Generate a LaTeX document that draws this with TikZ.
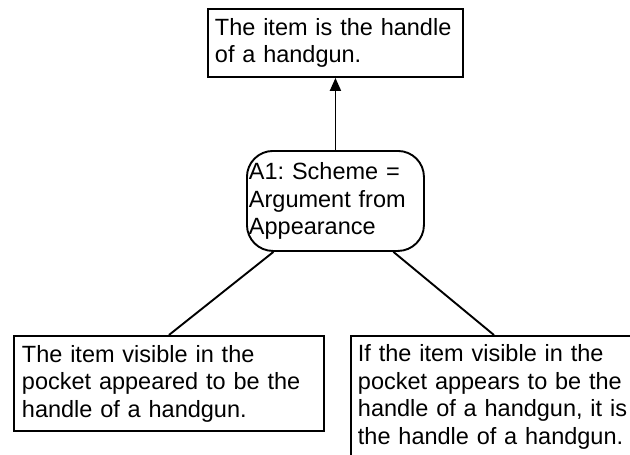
\documentclass[tikz,border=0pt]{standalone}
\usepackage{fontspec}
\setmainfont{Liberation Sans}
\usetikzlibrary{arrows.meta}
\frenchspacing
\begin{document}
\begin{tikzpicture}[x=1pt,y=-1pt,line width=1.9pt,
    claim/.style={draw,rectangle,anchor=north west,align=left,
      font=\fontsize{23.5}{27.5}\selectfont,inner ysep=0pt},
    scheme/.style={claim,rounded corners=26pt,inner xsep=2pt}]
  \useasboundingbox (0,0) rectangle (630,455);
  \clip (0,0) rectangle (630,455);
  \node[claim,inner xsep=7pt,text width=241pt,minimum height=68pt]
    (concl) at (207,8) {The item is the handle\\of a handgun.};
  \node[scheme,text width=173pt,minimum height=100pt]
    (appear) at (246,150) {A1: Scheme =\\Argument from\\Appearance};
  \node[claim,inner xsep=8pt,text width=294pt,minimum height=95pt]
    (prem1) at (13,335) {The item visible in the\\pocket appeared to be the\\handle of a handgun.};
  \node[claim,inner xsep=7pt,text width=272pt,minimum height=122pt]
    (prem2) at (350,335) {If the item visible in the\\pocket appears to be the\\handle of a handgun, it is\\the handle of a handgun.};
  \draw[-{Triangle[width=11pt,length=13pt]}] (appear) -- (concl);
  \draw ([xshift=-62pt]appear.south) -- (prem1.north);
  \draw ([xshift=58pt]appear.south) -- (prem2.north);
\end{tikzpicture}
\end{document}
